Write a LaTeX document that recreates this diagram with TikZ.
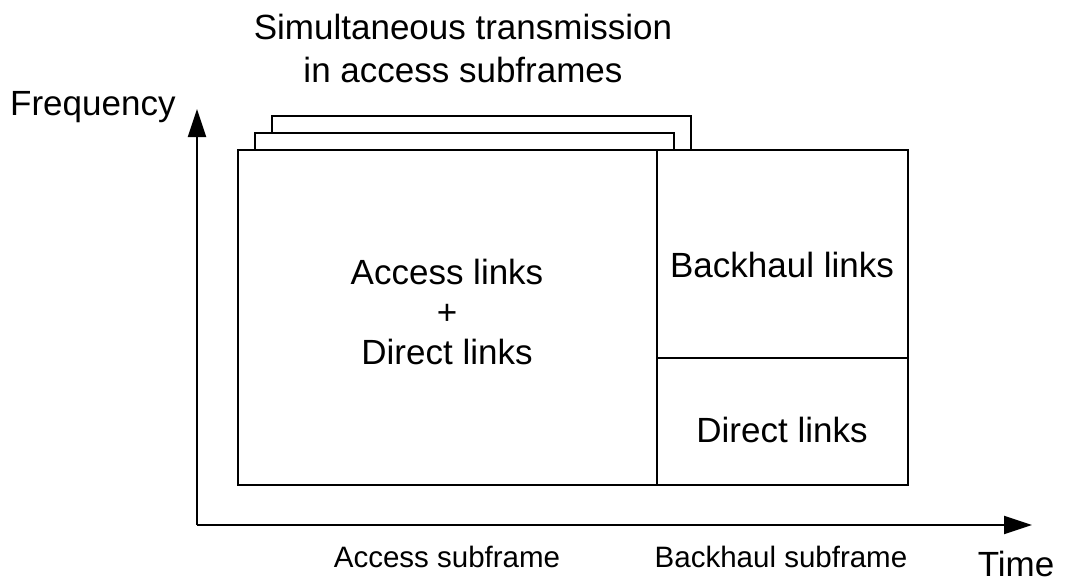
\documentclass[tikz,border=0pt]{standalone}
\usepackage{fontspec}
\setmainfont{Liberation Sans}
\usetikzlibrary{arrows.meta}
\begin{document}
\begin{tikzpicture}[x=1pt,y=-1pt,
  frame/.style={line width=2pt,line join=miter},
  axis/.style={line width=2pt,-{Triangle[length=28pt,width=18pt]}},
  big/.style={font=\fontsize{35}{40}\selectfont,inner sep=0pt},
  small/.style={font=\fontsize{29.5}{34}\selectfont,inner sep=0pt}]
\useasboundingbox (0,0) rectangle (1067,584);

% axes
\coordinate (origin) at (197,525);
\coordinate (ftip) at (197,109);
\coordinate (ttip) at (1032,525);
\draw[axis] (origin) -- (ftip);
\draw[axis] (origin) -- (ttip);

% main frame and its partitions
\coordinate (nw) at (238,150);
\coordinate (se) at (908,485);
\coordinate (splittop) at (657,150);
\coordinate (splitbot) at (657,485);
\coordinate (midl) at (657,358);
\coordinate (midr) at (908,358);
\draw[frame] (nw) rectangle (se);
\draw[frame] (splittop) -- (splitbot);
\draw[frame] (midl) -- (midr);

% stacked frames behind
\draw[frame] (255,150) -- (255,133) -- (674,133) -- (674,150);
\draw[frame] (272,133) -- (272,116) -- (691,116) -- (691,150);

% labels
\node[big,align=center,font=\fontsize{35}{43}\selectfont] (title) at (463,48)
  {Simultaneous transmission\\in access subframes};
\node[big,anchor=base west] (freq) at (10,115) {Frequency};
\node[big,align=center] (access) at (447,312) {Access links\\+\\Direct links};
\node[big,anchor=base] (backhaul) at (782,277) {Backhaul links};
\node[big,anchor=base] (direct) at (782,442) {Direct links};
\node[small,anchor=base] (accsub) at (447,567) {Access subframe};
\node[small,anchor=base] (bhsub) at (781,567) {Backhaul subframe};
\node[big,anchor=base] (time) at (1016,576) {Time};
\end{tikzpicture}
\end{document}
